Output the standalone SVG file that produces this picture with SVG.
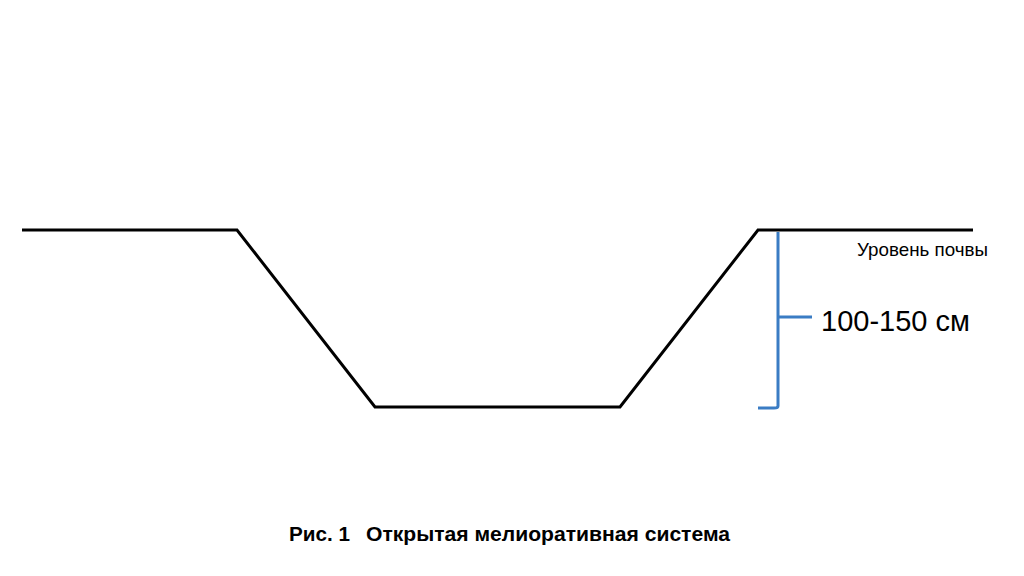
<svg xmlns="http://www.w3.org/2000/svg" width="1024" height="576" viewBox="0 0 1024 576">
<style>
.ground{fill:none;stroke:#000;stroke-width:3;stroke-linejoin:miter}
.brace{fill:none;stroke:#3a7cc4;stroke-width:3;stroke-linecap:butt}
text{font-family:"Liberation Sans",Arial,sans-serif;fill:#000}
.cap{font-size:20px;font-weight:bold}
</style>
<rect width="1024" height="576" fill="#fff"/>
<g id="connectors">
<path id="ground-profile" class="ground" d="M22,230 L237,230 L375,407 L620,407 L758,230 L973,230"/>
<path id="depth-brace" class="brace" d="M778,232 L778,406 Q778,408 774,408 L758,408 M778,317 L812,317"/>
</g>
<g id="label-soil"><text x="857" y="256" font-size="18.5" textLength="131" lengthAdjust="spacingAndGlyphs">Уровень почвы</text></g>
<g id="label-depth"><text x="821" y="331" font-size="29">100-150 см</text></g>
<g id="caption">
<text class="cap" x="289" y="541" textLength="61" lengthAdjust="spacingAndGlyphs">Рис. 1</text>
<text class="cap" x="366" y="541" textLength="364" lengthAdjust="spacingAndGlyphs">Открытая мелиоративная система</text>
</g>
</svg>
